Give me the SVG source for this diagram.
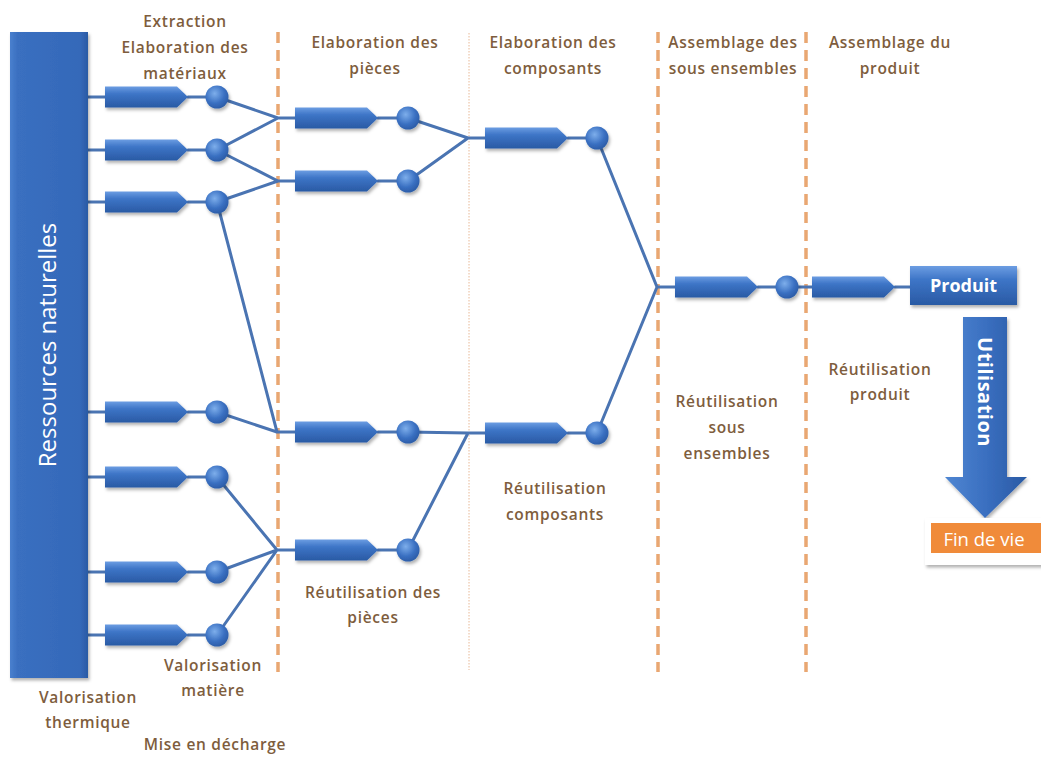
<svg xmlns="http://www.w3.org/2000/svg" width="1041" height="762" viewBox="0 0 1041 762">
<defs>
<linearGradient id="gArrow" x1="0" y1="0" x2="0" y2="1">
<stop offset="0" stop-color="#6C9DE2"/><stop offset="0.35" stop-color="#3D75C7"/><stop offset="1" stop-color="#2A5AA4"/>
</linearGradient>
<radialGradient id="gCircle" cx="0.4" cy="0.35" r="0.7">
<stop offset="0" stop-color="#7DAEEB"/><stop offset="0.6" stop-color="#3A70C2"/><stop offset="1" stop-color="#2A5AA4"/>
</radialGradient>
<linearGradient id="gBig" x1="0" y1="0" x2="1" y2="0">
<stop offset="0" stop-color="#4A80CE"/><stop offset="0.1" stop-color="#3A6FC0"/><stop offset="0.9" stop-color="#3469B9"/><stop offset="1" stop-color="#2A5AA4"/>
</linearGradient>
<linearGradient id="gUtil" x1="0" y1="0" x2="1" y2="0">
<stop offset="0" stop-color="#4F86D2"/><stop offset="0.5" stop-color="#3A6FC0"/><stop offset="1" stop-color="#2A5AA4"/>
</linearGradient>
<filter id="sh" x="-20%" y="-20%" width="140%" height="160%">
<feDropShadow dx="1.5" dy="2.5" stdDeviation="1.5" flood-color="#000" flood-opacity="0.3"/>
</filter>
<polygon id="arr" points="0,-10.5 72,-10.5 83,0 72,10.5 0,10.5" stroke-linejoin="round"/>
<style>
.t{font-family:"Open Sans","Liberation Sans",sans-serif;font-weight:600;font-size:15.5px;letter-spacing:0.7px;fill:#7E5D3D;text-anchor:middle}
.ln{stroke:#4A74B2;stroke-width:3;fill:none;stroke-linecap:round}
.dash{stroke:#E9A772;stroke-width:3.5;stroke-dasharray:11 7;fill:none}
.dot{stroke:#E8B896;stroke-width:1;stroke-dasharray:1.5 1.5;fill:none}
.a{fill:url(#gArrow);filter:url(#sh)}
.c{fill:url(#gCircle);filter:url(#sh)}
.wt{font-family:"Open Sans","Liberation Sans",sans-serif;fill:#fff}
</style>
</defs>
<rect width="1041" height="762" fill="#fff"/>

<g id="separators">
<line class="dash" x1="278" y1="32" x2="278" y2="672"/>
<line class="dot" x1="469" y1="33" x2="469" y2="670"/>
<line class="dash" x1="658" y1="32" x2="658" y2="672"/>
<line class="dash" x1="806" y1="32" x2="806" y2="672"/>
</g>

<g id="connectors">
<path class="ln" d="M88,97H105 M188,97H206 M88,150H105 M188,150H206 M88,202H105 M188,202H206 M88,412H105 M188,412H206 M88,477H105 M188,477H206 M88,572H105 M188,572H206 M88,635H105 M188,635H206"/>
<path class="ln" d="M217,97L278,118L295,118 M217,150L278,118 M217,150L278,181L295,181 M217,202L278,181 M217,202L277,432L295,432 M217,412L277,432 M217,477L277,550L295,550 M217,572L277,550 M217,635L277,550"/>
<path class="ln" d="M378,118H397 M378,181H397 M378,432H397 M378,550H397"/>
<path class="ln" d="M408,118L468,138L485,138 M408,181L468,138 M408,432L468,433L485,433 M408,550L468,433"/>
<path class="ln" d="M568,138H586 M568,433H586 M597,138L657,287L675,287 M597,433L657,287"/>
<path class="ln" d="M758,287H776 M787,287H812 M895,287H910"/>
</g>

<g id="ressources">
<rect x="10" y="32" width="78" height="646" fill="url(#gBig)" filter="url(#sh)"/>
<text class="wt" transform="translate(56,345) rotate(-90)" text-anchor="middle" font-size="24" font-weight="400">Ressources naturelles</text>
</g>

<g id="col1">
<use href="#arr" class="a" x="105" y="97"/><circle class="c" cx="217" cy="97" r="11.5"/>
<use href="#arr" class="a" x="105" y="150"/><circle class="c" cx="217" cy="150" r="11.5"/>
<use href="#arr" class="a" x="105" y="202"/><circle class="c" cx="217" cy="202" r="11.5"/>
<use href="#arr" class="a" x="105" y="412"/><circle class="c" cx="217" cy="412" r="11.5"/>
<use href="#arr" class="a" x="105" y="477"/><circle class="c" cx="217" cy="477" r="11.5"/>
<use href="#arr" class="a" x="105" y="572"/><circle class="c" cx="217" cy="572" r="11.5"/>
<use href="#arr" class="a" x="105" y="635"/><circle class="c" cx="217" cy="635" r="11.5"/>
</g>

<g id="col2">
<use href="#arr" class="a" x="295" y="118"/><circle class="c" cx="408" cy="118" r="11.5"/>
<use href="#arr" class="a" x="295" y="181"/><circle class="c" cx="408" cy="181" r="11.5"/>
<use href="#arr" class="a" x="295" y="432"/><circle class="c" cx="408" cy="432" r="11.5"/>
<use href="#arr" class="a" x="295" y="550"/><circle class="c" cx="408" cy="550" r="11.5"/>
</g>

<g id="col3">
<use href="#arr" class="a" x="485" y="138"/><circle class="c" cx="597" cy="138" r="11.5"/>
<use href="#arr" class="a" x="485" y="433"/><circle class="c" cx="597" cy="433" r="11.5"/>
</g>

<g id="col4">
<use href="#arr" class="a" x="675" y="287"/><circle class="c" cx="787" cy="287" r="11.5"/>
</g>

<g id="col5">
<use href="#arr" class="a" x="812" y="287"/>
</g>

<g id="produit">
<rect x="910" y="266" width="107" height="39" fill="url(#gArrow)" filter="url(#sh)"/>
<text class="wt" x="963.5" y="292" text-anchor="middle" font-size="18" font-weight="700">Produit</text>
</g>

<g id="utilisation">
<polygon points="963,317 1007,317 1007,477 1027,477 985,518 945,477 963,477" fill="url(#gUtil)" filter="url(#sh)"/>
<text class="wt" transform="translate(978,392) rotate(90)" text-anchor="middle" font-size="20" font-weight="700" letter-spacing="0.5">Utilisation</text>
</g>

<g id="findevie">
<rect x="925" y="518" width="118" height="47" fill="#fff" filter="url(#sh)"/>
<rect x="931" y="523" width="110" height="30" fill="#F08B3A"/>
<text class="wt" x="984" y="546" text-anchor="middle" font-size="18.5">Fin de vie</text>
</g>

<g id="labels">
<text class="t" x="185" y="27">Extraction</text>
<text class="t" x="185" y="53">Elaboration des</text>
<text class="t" x="185" y="79">matériaux</text>
<text class="t" x="375" y="48">Elaboration des</text>
<text class="t" x="375" y="74">pièces</text>
<text class="t" x="553" y="48">Elaboration des</text>
<text class="t" x="553" y="74">composants</text>
<text class="t" x="733" y="48">Assemblage des</text>
<text class="t" x="733" y="74">sous ensembles</text>
<text class="t" x="890" y="48">Assemblage du</text>
<text class="t" x="890" y="74">produit</text>
<text class="t" x="880" y="375">Réutilisation</text>
<text class="t" x="880" y="400">produit</text>
<text class="t" x="727" y="407">Réutilisation</text>
<text class="t" x="727" y="433">sous</text>
<text class="t" x="727" y="459">ensembles</text>
<text class="t" x="555" y="494">Réutilisation</text>
<text class="t" x="555" y="520">composants</text>
<text class="t" x="373" y="598">Réutilisation des</text>
<text class="t" x="373" y="623">pièces</text>
<text class="t" x="213" y="671">Valorisation</text>
<text class="t" x="213" y="696">matière</text>
<text class="t" x="88" y="703">Valorisation</text>
<text class="t" x="88" y="728">thermique</text>
<text class="t" x="215" y="750">Mise en décharge</text>
</g>
</svg>
